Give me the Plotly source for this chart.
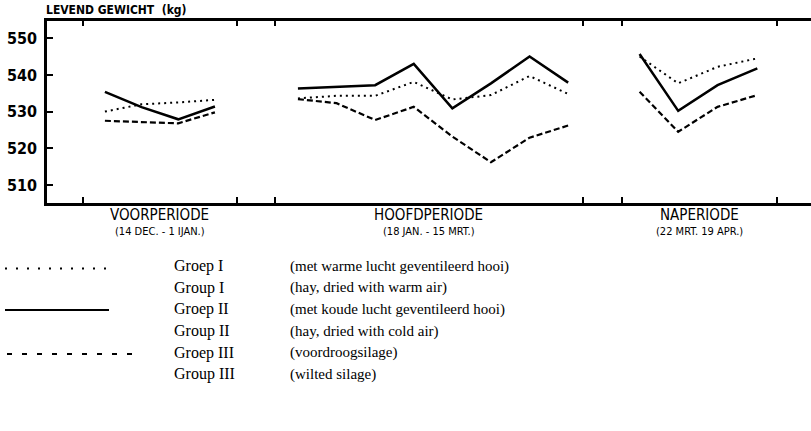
import plotly.graph_objects as go

# ---- data ----
periods = ["VOORPERIODE", "HOOFDPERIODE", "NAPERIODE"]
period_dates = ["(14 DEC. - 1 IJAN.)", "(18 JAN. - 15 MRT.)", "(22 MRT. 19 APR.)"]
period_bounds = [(-0.57, 3.42), (4.40, 12.38), (13.39, 17.41)]

x_voor = [0.0, 0.95, 1.90, 2.85]
x_hoofd = [5, 6, 7, 8, 9, 10, 11, 12]
x_nap = [13.85, 14.85, 15.87, 16.9]

g1_voor = [530.0, 532.0, 532.5, 533.2]
g1_hoofd = [533.6, 534.3, 534.3, 538.1, 533.3, 534.5, 539.7, 534.8]
g1_nap = [545.0, 537.7, 542.2, 544.5]

g2_voor = [535.4, 531.2, 527.9, 531.4]
g2_hoofd = [536.3, 536.8, 537.2, 543.0, 530.9, 537.7, 545.0, 537.9]
g2_nap = [545.7, 530.2, 537.2, 541.8]

g3_voor = [527.5, 527.2, 526.8, 529.8]
g3_hoofd = [533.4, 532.3, 527.7, 531.3, 523.2, 516.2, 522.9, 526.2]
g3_nap = [535.4, 524.5, 531.3, 534.5]

y_ticks = [510, 520, 530, 540, 550]

legend_rows = [
    ("Groep I", "(met warme lucht geventileerd hooi)"),
    ("Group I", "(hay, dried with warm air)"),
    ("Groep II", "(met koude lucht geventileerd hooi)"),
    ("Group II", "(hay, dried with cold air)"),
    ("Groep III", "(voordroogsilage)"),
    ("Group III", "(wilted silage)"),
]

W, H = 811, 431
L = 47
COND = "DejaVu Sans Condensed, DejaVu Sans, sans-serif"
SERIF = "Liberation Serif, Times New Roman, serif"


def xp(px):
    return (px - L) / (W - L)


def yp(py):
    return 1 - py / H


styles = {
    "g1": dict(color="black", width=2, dash="2px,4px"),
    "g2": dict(color="black", width=2.5, dash="solid"),
    "g3": dict(color="black", width=2.2, dash="6px,3px"),
}

fig = go.Figure()
series = [
    ("g1", [(x_voor, g1_voor), (x_hoofd, g1_hoofd), (x_nap, g1_nap)]),
    ("g2", [(x_voor, g2_voor), (x_hoofd, g2_hoofd), (x_nap, g2_nap)]),
    ("g3", [(x_voor, g3_voor), (x_hoofd, g3_hoofd), (x_nap, g3_nap)]),
]
for key, segs in series:
    for xs, ys in segs:
        fig.add_trace(go.Scatter(x=xs, y=ys, mode="lines", line=styles[key],
                                 showlegend=False, hoverinfo="skip"))

bound_ticks = [b for pair in period_bounds for b in pair]

top_px, bot_px = 20.7, 202.5
fig.update_layout(
    width=W, height=H,
    margin=dict(l=L, r=0, t=0, b=0),
    paper_bgcolor="white", plot_bgcolor="white",
    showlegend=False,
    xaxis=dict(range=[-1.50, 18.29], showgrid=False, zeroline=False,
               showline=True, linecolor="black", linewidth=2.5, mirror="ticks",
               ticks="inside", ticklen=6, tickwidth=2, tickcolor="black",
               tickvals=bound_ticks, ticktext=[""] * len(bound_ticks)),
    yaxis=dict(range=[505.23, 554.77], showgrid=False, zeroline=False,
               domain=[yp(bot_px), yp(top_px)],
               showline=True, linecolor="black", linewidth=2.5,
               ticks="inside", ticklen=6, tickwidth=2, tickcolor="black",
               tickvals=y_ticks, ticktext=[str(v) for v in y_ticks],
               tickfont=dict(family="DejaVu Sans Condensed, DejaVu Sans", size=16,
                             color="black", weight="bold"),
               ticklabelstandoff=4),
)

# y-axis title at the top-left
fig.add_annotation(xref="paper", yref="paper", x=xp(44), y=yp(19.5),
                   xanchor="left", yanchor="bottom", showarrow=False,
                   text="<b>LEVEND GEWICHT  (kg)</b>",
                   font=dict(family=COND, size=12, color="black"))

# period labels under the axis
for name, dates, (a, b) in zip(periods, period_dates, period_bounds):
    xc = (a + b) / 2
    fig.add_annotation(x=xc, xref="x", yref="paper", y=yp(214.5), yanchor="middle",
                       text=name, showarrow=False,
                       font=dict(family=COND, size=15, color="black"))
    fig.add_annotation(x=xc, xref="x", yref="paper", y=yp(231.5), yanchor="middle",
                       text=dates, showarrow=False,
                       font=dict(family=COND, size=11, color="black"))

# legend text (serif)
row_y = [266, 287.5, 309, 331, 352.5, 374]
for (lab, desc), yy in zip(legend_rows, row_y):
    fig.add_annotation(xref="paper", yref="paper", x=xp(172), y=yp(yy),
                       xanchor="left", yanchor="middle", showarrow=False, text=lab,
                       font=dict(family=SERIF, size=16, color="black"))
    fig.add_annotation(xref="paper", yref="paper", x=xp(288), y=yp(yy),
                       xanchor="left", yanchor="middle", showarrow=False, text=desc,
                       font=dict(family=SERIF, size=15, color="black"))

# legend sample lines
samples = [
    (268.5, 5, 109, dict(color="black", width=2, dash="2px,9px")),
    (310, 5, 109, dict(color="black", width=2, dash="solid")),
    (354, 7, 137, dict(color="black", width=2, dash="5px,10px")),
]
for yy, x0, x1, ln in samples:
    fig.add_shape(type="line", xref="paper", yref="paper",
                  x0=xp(x0), x1=xp(x1), y0=yp(yy), y1=yp(yy), line=ln)

fig.write_html("out.html", config={"displayModeBar": False},
               post_script="document.body.style.margin='0';")
